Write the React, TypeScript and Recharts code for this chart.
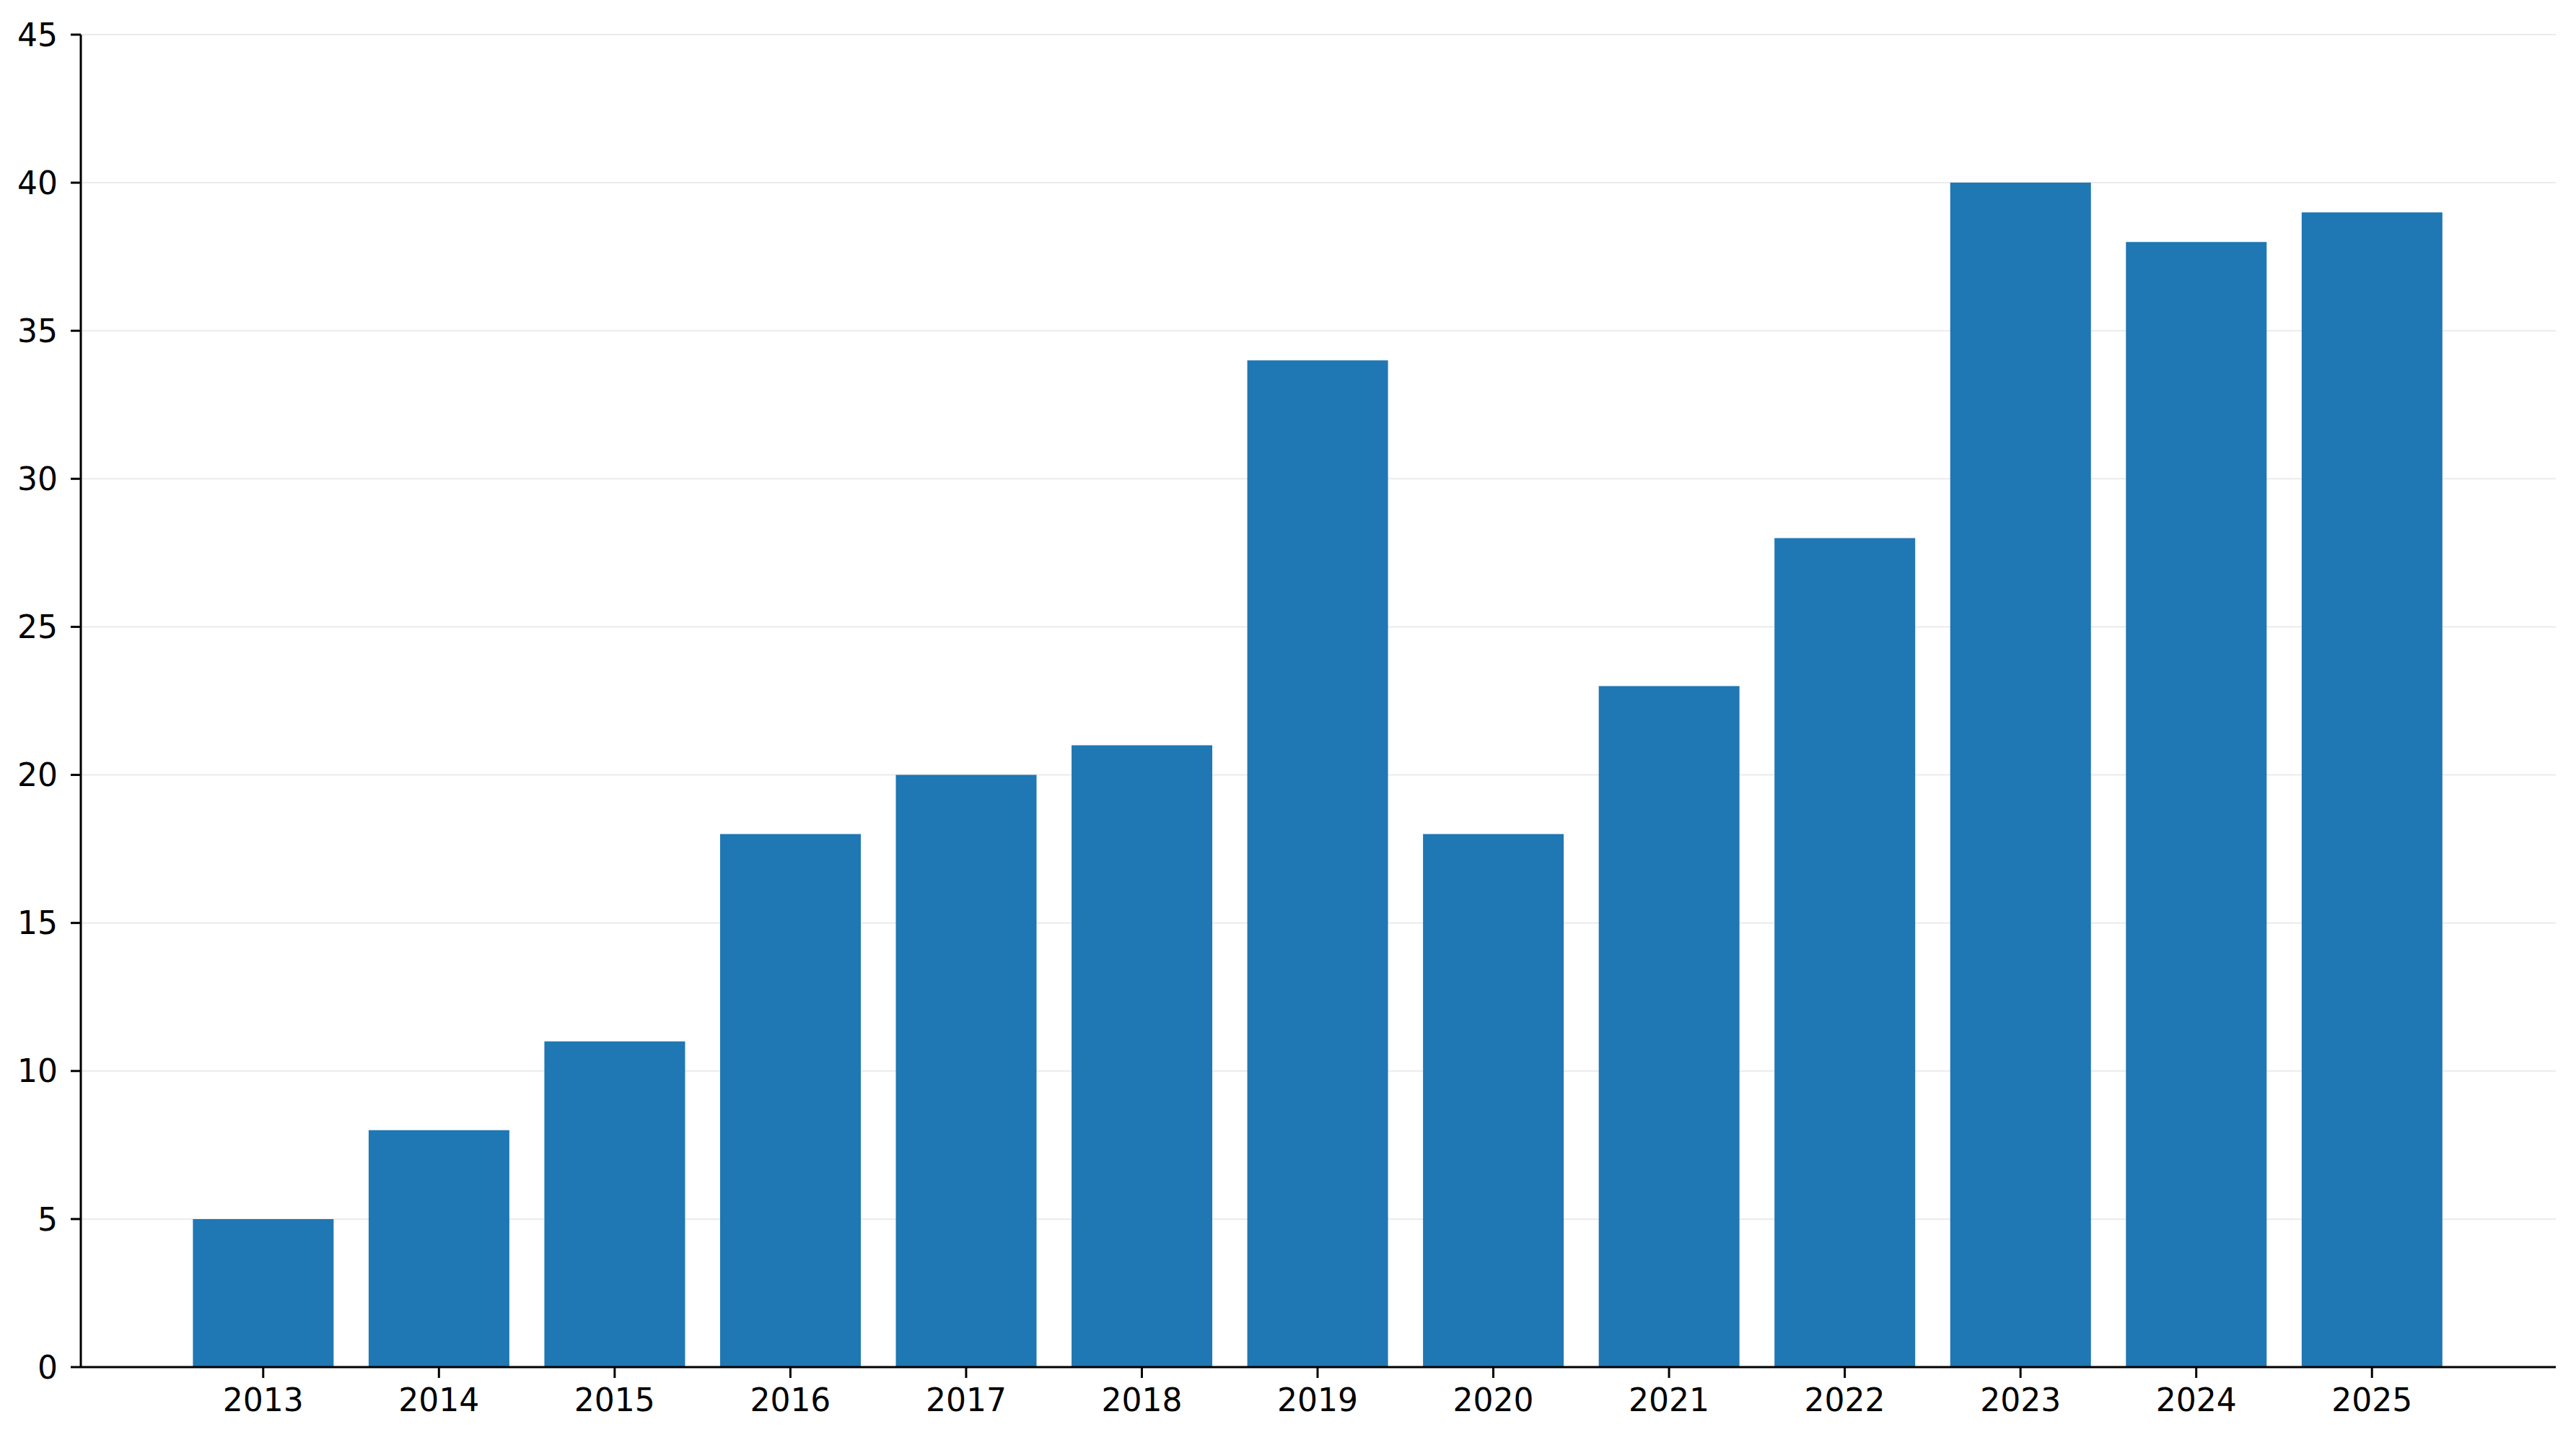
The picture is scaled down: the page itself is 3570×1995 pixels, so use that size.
import { Bar, BarChart, CartesianGrid, XAxis, YAxis } from 'recharts';

const years = ['2013', '2014', '2015', '2016', '2017', '2018', '2019', '2020', '2021', '2022', '2023', '2024', '2025'];
const counts = [5, 8, 11, 18, 20, 21, 34, 18, 23, 28, 40, 38, 39];
const yTicks = [0, 5, 10, 15, 20, 25, 30, 35, 40, 45];

const data = years.map((year, i) => ({ year, count: counts[i] }));

const font = 'DejaVu Sans, sans-serif';
const tickStyle = { fill: '#000000', fontSize: 44, fontFamily: font };
const axisStroke = { stroke: '#000000', strokeWidth: 3 };

export default function App() {
  return (
    <div style={{ position: 'absolute', left: 0, top: 0, width: 3570, height: 1995, background: '#ffffff' }}>
      <BarChart
        width={3570}
        height={1995}
        data={data}
        margin={{ top: 48, right: 28, bottom: 0, left: 0 }}
        barCategoryGap="10%"
      >
        <CartesianGrid vertical={false} stroke="#ebebeb" strokeWidth={2} />
        <XAxis
          dataKey="year"
          height={101}
          padding={{ left: 131, right: 133 }}
          tick={tickStyle}
          tickSize={15}
          tickMargin={15}
          axisLine={axisStroke}
          tickLine={axisStroke}
          interval={0}
        />
        <YAxis
          width={112}
          domain={[0, 45]}
          ticks={yTicks}
          tick={tickStyle}
          tickSize={14}
          tickMargin={18}
          axisLine={axisStroke}
          tickLine={axisStroke}
          interval={0}
        />
        <Bar dataKey="count" fill="#1f77b4" isAnimationActive={false} />
      </BarChart>
    </div>
  );
}
